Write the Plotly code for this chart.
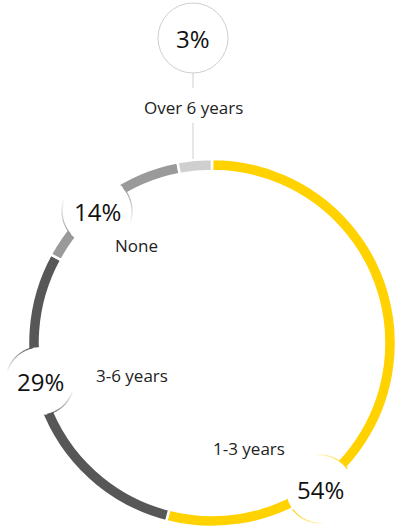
import math
import plotly.graph_objects as go

# ---- data ----
categories = ["1-3 years", "3-6 years", "None", "Over 6 years"]
values = [54, 29, 14, 3]

# ---- style ----
W, H = 396, 528
colors = ["#FFD200", "#575757", "#9A9A9A", "#CFCFCF"]
FONT = "Open Sans"

ring_cx, ring_cy, ring_r, ring_w = 212, 343, 184, 12

badge_pos = {"1-3 years": (320, 489), "3-6 years": (40, 381),
             "None": (97, 211), "Over 6 years": (193, 38)}
badge_rad = {"1-3 years": 34, "3-6 years": 34, "None": 35, "Over 6 years": 35}
arc_dir = {"1-3 years": -1, "3-6 years": -1, "None": 1, "Over 6 years": 0}
label_pos = {"1-3 years": (249, 448), "3-6 years": (132, 375),
             "None": (136, 246), "Over 6 years": (193, 107)}


def px(x):
    return x / W


def py(y):
    return 1 - y / H


fig = go.Figure()
fig.add_trace(go.Pie(
    labels=categories, values=values, sort=False, direction="clockwise",
    rotation=0, hole=(ring_r - ring_w) / ring_r,
    marker=dict(colors=colors, line=dict(color="white", width=2.5)),
    textinfo="none", hoverinfo="skip", showlegend=False,
    domain=dict(x=[(ring_cx - ring_r) / W, min(1, (ring_cx + ring_r) / W)],
                y=[max(0, py(ring_cy + ring_r)), py(ring_cy - ring_r)]),
))

shapes = []
annotations = []
for cat, val, col in zip(categories, values, colors):
    bx, by = badge_pos[cat]
    br = badge_rad[cat]
    d = arc_dir[cat]
    shapes.append(dict(type="circle", xref="paper", yref="paper", layer="above",
                       x0=px(bx - br), x1=px(bx + br), y0=py(by + br), y1=py(by - br),
                       fillcolor="white",
                       line=dict(color="#CFCFCF" if d == 0 else "rgba(0,0,0,0)", width=1)))
    if d != 0:
        theta = math.degrees(math.atan2(bx - ring_cx, -(by - ring_cy)))
        for start in (theta, theta + 180):
            nseg = 10
            span = 60
            for k in range(nseg):
                a0 = math.radians(start + d * span * k / nseg)
                a1 = math.radians(start + d * span * (k + 1) / nseg)
                pts = []
                for j in range(4):
                    a = a0 + (a1 - a0) * j / 3
                    pts.append((bx + br * math.cos(a), by + br * math.sin(a)))
                path = "M " + " L ".join(f"{px(x):.5f},{py(y):.5f}" for x, y in pts)
                shapes.append(dict(type="path", xref="paper", yref="paper", layer="above",
                                   path=path, line=dict(color=col, width=1.2),
                                   opacity=max(0.05, 1 - k / nseg)))
    else:
        lx, ly = label_pos[cat]
        for y0, y1 in ((by + br, ly - 19), (ly + 16, ring_cy - ring_r)):
            shapes.append(dict(type="line", xref="paper", yref="paper", layer="above",
                               x0=px(bx), x1=px(bx), y0=py(y0), y1=py(y1),
                               line=dict(color="#CFCFCF", width=1)))
    annotations.append(dict(x=px(bx), y=py(by), xref="paper", yref="paper",
                            text=f"{val}%", showarrow=False, xanchor="center",
                            yanchor="middle",
                            font=dict(family=FONT, size=24, color="#111111")))
    lx, ly = label_pos[cat]
    annotations.append(dict(x=px(lx), y=py(ly), xref="paper", yref="paper",
                            text=cat, showarrow=False, xanchor="center",
                            yanchor="middle",
                            font=dict(family=FONT, size=17, color="#222222")))

fig.update_layout(
    width=W, height=H, margin=dict(l=0, r=0, t=0, b=0),
    paper_bgcolor="white", plot_bgcolor="white",
    shapes=shapes, annotations=annotations, showlegend=False,
)

fig.write_html("out.html",
               config={"displayModeBar": False, "staticPlot": True},
               post_script="document.body.style.margin='0px';"
                           "document.body.style.overflow='hidden';")
